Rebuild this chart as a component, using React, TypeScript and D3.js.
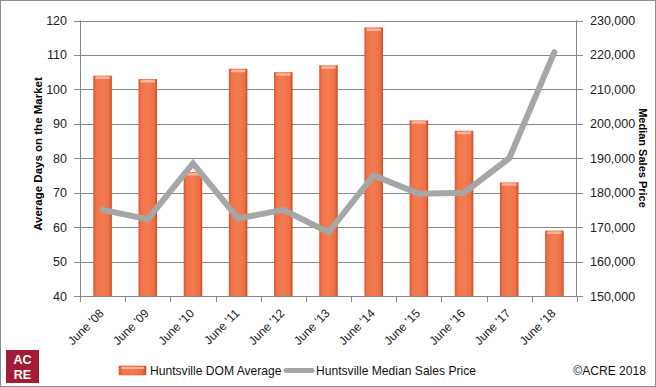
import React, { useEffect, useRef } from 'react';
import * as d3 from 'd3';

const categories = ["June '08", "June '09", "June '10", "June '11", "June '12", "June '13", "June '14", "June '15", "June '16", "June '17", "June '18"];
const domAverage = [104, 103, 76, 106, 105, 107, 118, 91, 88, 73, 59];
const medianPrice = [175000, 172300, 188500, 172500, 175000, 168500, 185000, 179700, 180000, 190000, 220800];
const leftTicks = [40, 50, 60, 70, 80, 90, 100, 110, 120];
const rightTicks = [150000, 160000, 170000, 180000, 190000, 200000, 210000, 220000, 230000];

const W = 656;
const H = 387;
const FONT = 'Liberation Sans, Arial, sans-serif';

const App = () => {
  const ref = useRef<SVGSVGElement>(null);

  useEffect(() => {
    const svg = d3.select(ref.current);
    svg.selectAll('*').remove();

    const left = 80, right = 577, top = 20.5, bottom = 296;

    const x = d3.scaleBand().domain(categories).range([left, right]).paddingInner(0.59).paddingOuter(0.295);
    const xc = d3.scaleBand().domain(categories).range([left, right]);
    const yL = d3.scaleLinear().domain([40, 120]).range([bottom, top]);
    const yR = d3.scaleLinear().domain([150000, 230000]).range([bottom, top]);

    const defs = svg.append('defs');
    const grad = defs.append('linearGradient').attr('id', 'barGrad').attr('x1', 0).attr('x2', 1).attr('y1', 0).attr('y2', 0);
    grad.append('stop').attr('offset', '0%').attr('stop-color', '#D9542C');
    grad.append('stop').attr('offset', '15%').attr('stop-color', '#F07448');
    grad.append('stop').attr('offset', '50%').attr('stop-color', '#F47C52');
    grad.append('stop').attr('offset', '85%').attr('stop-color', '#EE7044');
    grad.append('stop').attr('offset', '100%').attr('stop-color', '#C84A25');

    // outer frame
    svg.append('rect').attr('x', 0.5).attr('y', 0.5).attr('width', W - 1).attr('height', H - 1)
      .attr('fill', '#fff').attr('stroke', '#8c8c8c');

    // gridlines
    svg.append('g').selectAll('line').data(leftTicks.slice(1)).enter().append('line')
      .attr('x1', left).attr('x2', right)
      .attr('y1', d => Math.round(yL(d)) + 0.5).attr('y2', d => Math.round(yL(d)) + 0.5)
      .attr('stroke', '#878787').attr('stroke-width', 1);

    // bars
    const bars = svg.append('g');
    bars.selectAll('rect.bar').data(domAverage).enter().append('rect')
      .attr('class', 'bar')
      .attr('x', (d, i) => x(categories[i])!)
      .attr('y', d => yL(d))
      .attr('width', x.bandwidth())
      .attr('height', d => bottom - yL(d))
      .attr('fill', 'url(#barGrad)');
    bars.selectAll('rect.hl').data(domAverage).enter().append('rect')
      .attr('class', 'hl')
      .attr('x', (d, i) => x(categories[i])! + 2)
      .attr('y', d => yL(d) + 1)
      .attr('width', x.bandwidth() - 4)
      .attr('height', 2.5)
      .attr('rx', 1.2)
      .attr('fill', '#FBB59A');

    // axes lines
    svg.append('line').attr('x1', left + 0.5).attr('x2', left + 0.5).attr('y1', top).attr('y2', bottom)
      .attr('stroke', '#878787');
    svg.append('line').attr('x1', right - 0.5).attr('x2', right - 0.5).attr('y1', top).attr('y2', bottom)
      .attr('stroke', '#878787');
    svg.append('line').attr('x1', left).attr('x2', right).attr('y1', bottom + 0.5).attr('y2', bottom + 0.5)
      .attr('stroke', '#878787');

    // left ticks
    const lt = svg.append('g');
    lt.selectAll('line').data(leftTicks).enter().append('line')
      .attr('x1', left - 6).attr('x2', left)
      .attr('y1', d => Math.round(yL(d)) + 0.5).attr('y2', d => Math.round(yL(d)) + 0.5)
      .attr('stroke', '#878787');
    lt.selectAll('text').data(leftTicks).enter().append('text')
      .attr('x', left - 13).attr('y', d => yL(d) + 4.5)
      .attr('text-anchor', 'end').attr('font-family', FONT).attr('font-size', 12.5)
      .attr('fill', '#222').text(d => d);

    // right ticks
    const rt = svg.append('g');
    rt.selectAll('line').data(rightTicks).enter().append('line')
      .attr('x1', right).attr('x2', right + 6)
      .attr('y1', d => Math.round(yR(d)) + 0.5).attr('y2', d => Math.round(yR(d)) + 0.5)
      .attr('stroke', '#878787');
    rt.selectAll('text').data(rightTicks).enter().append('text')
      .attr('x', right + 13).attr('y', d => yR(d) + 4.5)
      .attr('text-anchor', 'start').attr('font-family', FONT).attr('font-size', 12.5)
      .attr('fill', '#222').text(d => d3.format(',')(d));

    // x ticks
    const xt = svg.append('g');
    xt.selectAll('line').data(d3.range(categories.length + 1)).enter().append('line')
      .attr('x1', i => Math.round(left + i * xc.step()) + 0.5).attr('x2', i => Math.round(left + i * xc.step()) + 0.5)
      .attr('y1', bottom).attr('y2', bottom + 6)
      .attr('stroke', '#878787');
    xt.selectAll('text').data(categories).enter().append('text')
      .attr('transform', d => `translate(${xc(d)! + xc.bandwidth() / 2 + 2},${bottom + 18}) rotate(-45)`)
      .attr('text-anchor', 'end').attr('font-family', FONT).attr('font-size', 12)
      .attr('fill', '#222').text(d => d);

    // line
    const line = d3.line<number>()
      .x((d, i) => xc(categories[i])! + xc.bandwidth() / 2)
      .y(d => yR(d));
    svg.append('path').datum(medianPrice).attr('d', line)
      .attr('fill', 'none').attr('stroke', '#A6A6A6').attr('stroke-width', 6)
      .attr('stroke-linejoin', 'miter').attr('stroke-linecap', 'round');

    // axis titles
    svg.append('text')
      .attr('transform', `translate(42,154) rotate(-90)`)
      .attr('text-anchor', 'middle').attr('font-family', FONT).attr('font-size', 11.5)
      .attr('font-weight', 'bold').attr('fill', '#000').text('Average Days on the Market');
    svg.append('text')
      .attr('transform', `translate(639,158) rotate(90)`)
      .attr('text-anchor', 'middle').attr('font-family', FONT).attr('font-size', 11)
      .attr('font-weight', 'bold').attr('fill', '#000').text('Median Sales Price');

    // legend
    const lg = svg.append('g');
    lg.append('rect').attr('x', 119).attr('y', 366).attr('width', 27).attr('height', 9)
      .attr('fill', 'url(#barGrad)').attr('stroke', '#D9542C').attr('stroke-width', 0.5);
    lg.append('rect').attr('x', 121).attr('y', 367).attr('width', 23).attr('height', 2).attr('fill', '#FBB59A');
    lg.append('text').attr('x', 150).attr('y', 375).attr('font-family', FONT).attr('font-size', 12.1)
      .attr('fill', '#111').text('Huntsville DOM Average');
    lg.append('line').attr('x1', 286).attr('x2', 312).attr('y1', 370.5).attr('y2', 370.5)
      .attr('stroke', '#A6A6A6').attr('stroke-width', 5).attr('stroke-linecap', 'round');
    lg.append('text').attr('x', 316).attr('y', 375).attr('font-family', FONT).attr('font-size', 12.1)
      .attr('fill', '#111').text('Huntsville Median Sales Price');
    svg.append('text').attr('x', 646).attr('y', 375).attr('text-anchor', 'end').attr('font-family', FONT)
      .attr('font-size', 12.1).attr('fill', '#111').text('\u00A9ACRE 2018');

    // logo
    const logo = svg.append('g');
    logo.append('rect').attr('x', 6).attr('y', 350).attr('width', 33).attr('height', 33).attr('fill', '#A21C36');
    logo.append('text').attr('x', 22.5).attr('y', 363.5).attr('text-anchor', 'middle').attr('font-family', FONT)
      .attr('font-size', 12.5).attr('font-weight', 'bold').attr('fill', '#fff').text('AC');
    logo.append('text').attr('x', 22.5).attr('y', 378.5).attr('text-anchor', 'middle').attr('font-family', FONT)
      .attr('font-size', 12.5).attr('font-weight', 'bold').attr('fill', '#fff').text('RE');
  }, []);

  return (
    <div style={{ position: 'absolute', left: 0, top: 0 }}>
      <svg ref={ref} width={W} height={H} style={{ display: 'block' }} />
    </div>
  );
};

export default App;
